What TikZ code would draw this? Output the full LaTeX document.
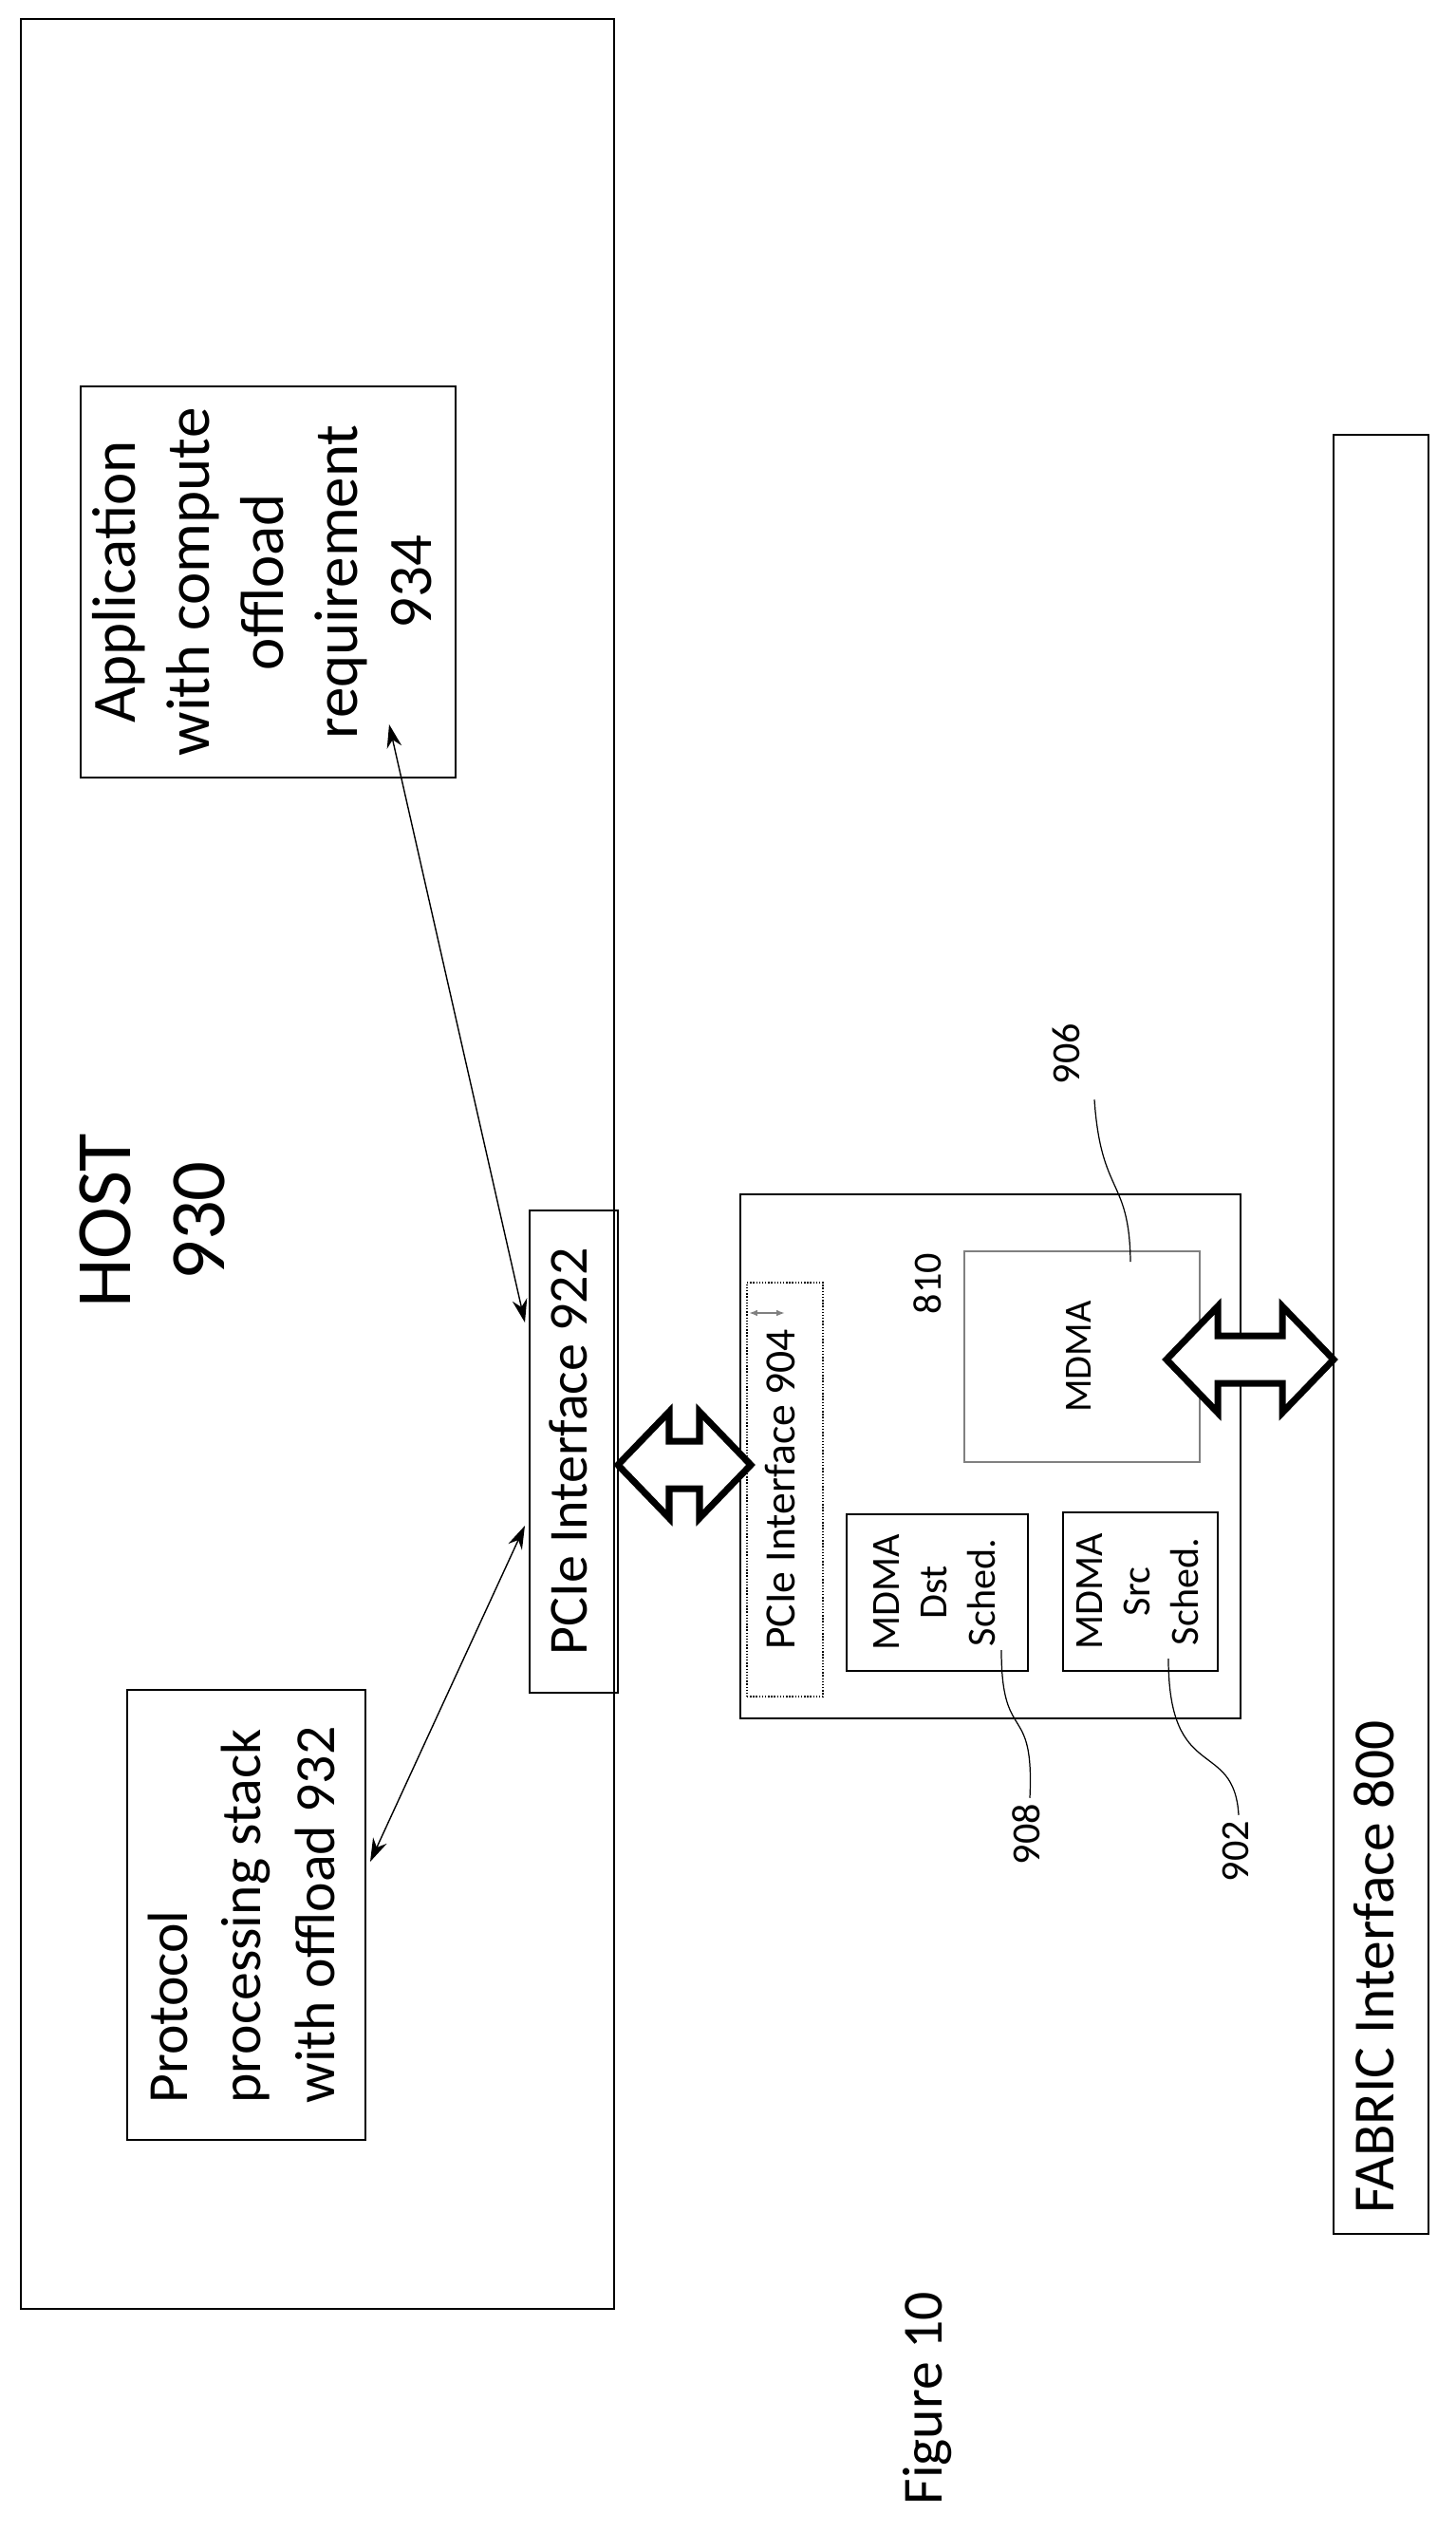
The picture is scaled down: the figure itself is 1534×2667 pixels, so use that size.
\documentclass[tikz,border=0pt]{standalone}
\usepackage{fontspec}
\setmainfont{Carlito}
\usepackage{graphicx}
\usetikzlibrary{arrows.meta}

% hollow double arrow between x1 and x2 at height y
\newcommand{\fatarrow}[3]{%
  \draw[line width=4pt,line join=miter,fill=white]
    (#1,#3) -- ++(54,-56) -- ++(0,31) -- (#2-54,#3-25) -- ++(0,-31)
    -- (#2,#3) -- ++(-54,56) -- ++(0,-31) -- (#1+54,#3+25) -- ++(0,31) -- cycle;}
\newcommand{\vtext}[2]{\rotatebox{90}{\fontsize{#1}{1.2\dimexpr #1pt\relax}\selectfont\begin{tabular}{@{}c@{}}#2\end{tabular}}}

\begin{document}
\begin{tikzpicture}[x=0.02cm,y=-0.02cm,
  blk/.style={draw,line width=1.2pt,inner sep=0pt},
  lead/.style={line width=0.7pt},
  thin/.style={line width=0.8pt,{Stealth[length=14pt,width=9pt]}-{Stealth[length=14pt,width=9pt]}}]
\useasboundingbox (0,0) rectangle (1534,2667);

% host side
\node[blk,minimum width=625*0.02cm,minimum height=2412*0.02cm] (host) at (334.5,1226) {};
\node (hostlbl) at (167,1286) {\vtext{47}{HOST\\930}};
\node[blk,minimum width=395*0.02cm,minimum height=412*0.02cm] (app) at (282.5,613)
  {\vtext{37}{Application\\with compute\\offload\\requirement\\934}};
\node[blk,minimum width=251*0.02cm,minimum height=474*0.02cm] (proto) at (259.5,2017)
  {\rotatebox{90}{\fontsize{34}{44}\selectfont\begin{tabular}{@{}l@{}}Protocol\\processing stack\\with offload 932\end{tabular}}};
\node[blk,minimum width=93*0.02cm,minimum height=508*0.02cm] (p922) at (604.5,1529)
  {\vtext{33}{PCIe Interface 922}};

\coordinate (append) at (410,763);
\coordinate (protoend) at (390,1961);
\coordinate (p922a) at (553,1393);
\coordinate (p922b) at (553,1607);
\draw[thin] (append) -- (p922a);
\draw[thin] (protoend) -- (p922b);

% offload device
\node[blk,minimum width=527*0.02cm,minimum height=552*0.02cm] (dev) at (1043.5,1534) {};
\node (devlbl) at (981,1352) {\vtext{24}{810}};
\node[blk,line width=0.8pt,densely dotted,minimum width=80*0.02cm,minimum height=436*0.02cm] (p904) at (827,1569)
  {\vtext{26}{PCIe Interface 904}};
\draw[gray,line width=1.5pt,{Latex[length=5pt]}-{Latex[length=5pt]}] (789,1383) -- (827,1383);
\node[blk,draw=gray,line width=0.8pt,minimum width=248*0.02cm,minimum height=222*0.02cm] (mdma) at (1140,1429)
  {\vtext{23}{MDMA}};
\node[blk,line width=1pt,minimum width=191*0.02cm,minimum height=165*0.02cm] (dst) at (987.5,1677.5)
  {\vtext{24}{MDMA\\Dst\\Sched.}};
\node[blk,line width=1pt,minimum width=163*0.02cm,minimum height=167*0.02cm] (src) at (1201.5,1676.5)
  {\vtext{24}{MDMA\\Src\\Sched.}};

% reference numerals
\node (n906) at (1127,1110) {\vtext{24}{906}};
\node (n908) at (1085,1932) {\vtext{24}{908}};
\node (n902) at (1305,1950) {\vtext{24}{902}};
\draw[lead] (n906.south) ++(26,10) .. controls (1160,1260) and (1190,1240) .. (1191,1329);
\draw[lead] (1055,1738) .. controls (1055,1840) and (1090,1790) .. (n908.north);
\draw[lead] (1231,1747) .. controls (1231,1880) and (1300,1830) .. (n902.north);

% fabric
\node[blk,minimum width=100*0.02cm,minimum height=1895*0.02cm] (fab) at (1455,1405.5) {};
\node (fablbl) at (1454,2072) {\vtext{35}{FABRIC Interface 800}};

\fatarrow{651}{791}{1543}
\fatarrow{1229}{1405}{1432}

\node (fig) at (978,2526) {\vtext{34}{Figure 10}};
\end{tikzpicture}
\end{document}
